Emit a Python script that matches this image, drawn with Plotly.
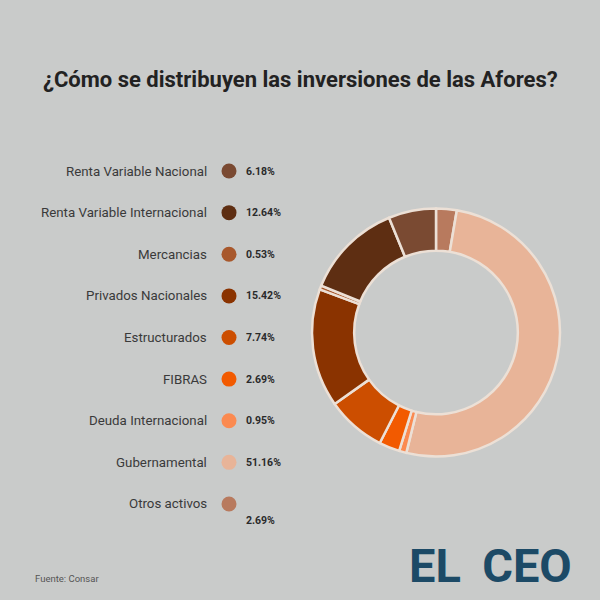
import plotly.graph_objects as go

categories = ["Renta Variable Nacional", "Renta Variable Internacional", "Mercancias",
              "Privados Nacionales", "Estructurados", "FIBRAS", "Deuda Internacional",
              "Gubernamental", "Otros activos"]
values = [6.18, 12.64, 0.53, 15.42, 7.74, 2.69, 0.95, 51.16, 2.69]
colors = ["#7a4a32", "#5e2e12", "#a8582c", "#8a3300", "#cc4e00", "#f25a00",
          "#fb8a50", "#e8b498", "#b87a5e"]

BG = "#c9cbca"

fig = go.Figure()

# Ring drawn clockwise from 12 o'clock starting with the last category
fig.add_trace(go.Pie(
    labels=categories[::-1], values=values[::-1], sort=False, direction="clockwise",
    rotation=0, hole=0.66, textinfo="none", hoverinfo="label+percent",
    marker=dict(colors=colors[::-1], line=dict(color="#ece0d6", width=2.5)),
    domain=dict(x=[312/600, 560/600], y=[1-458/600, 1-207/600]),
    showlegend=False,
))

# legend dots
fig.add_trace(go.Scatter(
    x=[0]*len(categories), y=categories, mode="markers",
    marker=dict(size=15, color=colors), xaxis="x", yaxis="y",
    showlegend=False, hoverinfo="skip",
))

annotations = []
for i, (c, v) in enumerate(zip(categories, values)):
    annotations.append(dict(x=0, y=c, xref="x", yref="y", text=c, showarrow=False,
                            xanchor="right", yanchor="middle", xshift=-20,
                            font=dict(family="Roboto", size=13.3, color="#3a3a3a")))
    last = i == len(categories) - 1
    annotations.append(dict(x=0, y=c, xref="x", yref="y", text=f"<b>{v:.2f}%</b>", showarrow=False,
                            xanchor="left", yanchor="middle", xshift=15, yshift=-17 if last else 0,
                            font=dict(family="Roboto", size=10.5, color="#2a2a2a")))

annotations.append(dict(x=0.5, y=1-80/600, xref="paper", yref="paper",
                        text="<b>¿Cómo se distribuyen las inversiones de las Afores?</b>",
                        showarrow=False, xanchor="center", yanchor="middle",
                        font=dict(family="Roboto", size=22, color="#222222")))
annotations.append(dict(x=33/600, y=1-578/600, xref="paper", yref="paper",
                        text="Fuente: Consar", showarrow=False, xanchor="left", yanchor="middle",
                        font=dict(family="Roboto", size=9.5, color="#555555")))
annotations.append(dict(x=574/600, y=1-565/600, xref="paper", yref="paper",
                        text="<b>EL\u2009 CEO</b>", showarrow=False, xanchor="right", yanchor="middle",
                        font=dict(family="Roboto", size=47, color="#1c4a66")))

fig.update_layout(
    width=600, height=600, paper_bgcolor=BG, plot_bgcolor=BG,
    margin=dict(l=0, r=0, t=0, b=0),
    xaxis=dict(domain=[0, 0.52], range=[-229, 83], visible=False, fixedrange=True),
    yaxis=dict(domain=[1-524.75/600, 1-150.25/600], type="category",
               categoryorder="array", categoryarray=categories,
               range=[len(categories)-0.5, -0.5], visible=False, fixedrange=True),
    annotations=annotations,
)

fig.write_html("out.html", config={"displayModeBar": False},
               post_script="document.body.style.margin='0';document.body.style.background='" + BG + "';")
